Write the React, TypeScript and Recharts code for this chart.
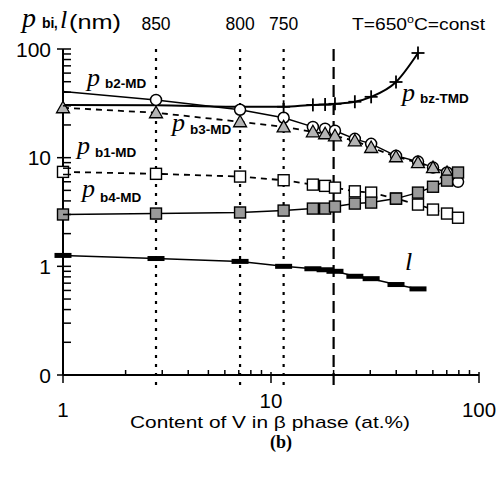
import React from 'react';
import { LineChart, Line, XAxis, YAxis, ReferenceLine } from 'recharts';

const xs = [1, 2.8, 7.1, 11.5, 15.9, 18.2, 20.3, 25.3, 30.3, 39.9, 50.9, 60.1, 70.2, 79.3];
const pb2 = [40.6, 34.0, 27.6, 23.3, 19.2, 18.5, 17.7, 14.9, 13.4, 10.4, 9.2, 8.1, 7.3, 6.0];
const pb3 = [28.8, 25.9, 21.4, 19.2, 17.3, 16.6, 15.9, 14.3, 12.4, 10.2, 9.0, 8.1, 7.3, null];
const pb1 = [7.4, 7.1, 6.7, 6.2, 5.65, 5.5, 5.3, 4.9, 4.77, 4.2, 3.7, 3.33, 3.06, 2.8];
const pb4 = [3.0, 3.06, 3.13, 3.26, 3.4, 3.4, 3.55, 3.78, 3.86, 4.2, 4.77, 5.4, 6.15, 7.3];
const pbz = [30.6, 30.3, 29.4, 29.4, 30.6, 30.8, 31.3, 32.7, 36.3, 49.7, 91.9, null, null, null];
const lnm = [1.26, 1.18, 1.11, 1.0, 0.95, 0.93, 0.9, 0.81, 0.77, 0.68, 0.62, null, null, null];

const tempLines = [
  { x: 2.8, label: '850' },
  { x: 7.1, label: '800' },
  { x: 11.5, label: '750' },
];
const dashedX = 20;

const xTicks = [1, 2, 3, 4, 5, 6, 7, 8, 9, 10, 20, 30, 40, 50, 60, 70, 80, 90, 100];
const yTicks = [0.1, 0.2, 0.3, 0.4, 0.5, 0.6, 0.7, 0.8, 0.9, 1, 2, 3, 4, 5, 6, 7, 8, 9, 10, 20, 30, 40, 50, 60, 70, 80, 90, 100];
const xLabels: Record<number, string> = { 1: '1', 10: '10', 100: '100' };
const yLabels: Record<number, string> = { 0.1: '0', 1: '1', 10: '10', 100: '100' };

const mk = (vals: (number | null)[]) =>
  xs.map((x, i) => ({ x, y: vals[i], i })).filter((d) => d.y !== null);

const SANS = 'Liberation Sans, Arial, sans-serif';
const SERIF = 'Liberation Serif, Times New Roman, serif';

const XTick = (props: any) => {
  const { x, y, payload } = props;
  const v = payload.value;
  const lab = xLabels[v];
  const major = lab !== undefined;
  return (
    <g>
      {major ? (
        <line x1={x} y1={y - 3} x2={x} y2={y + 8} stroke="#000" strokeWidth={1.5} />
      ) : (
        <line x1={x} y1={y - 5} x2={x} y2={y} stroke="#000" strokeWidth={1.5} />
      )}
      {major && (
        <text x={x} y={v === 10 ? y + 33 : y + 42} textAnchor="middle" fontFamily={SANS} fontSize={20.5} fill="#000">
          {lab}
        </text>
      )}
    </g>
  );
};

const YTick = (props: any) => {
  const { x, y, payload } = props;
  const v = payload.value;
  const lab = yLabels[v];
  const major = lab !== undefined;
  return (
    <g>
      {major ? (
        <line x1={x - 6} y1={y} x2={x + 8} y2={y} stroke="#000" strokeWidth={1.5} />
      ) : (
        <line x1={x} y1={y} x2={x + 8} y2={y} stroke="#000" strokeWidth={1.5} />
      )}
      {major && (
        <text x={x - 12} y={y + 7.5} textAnchor="end" fontFamily={SANS} fontSize={21} fill="#000">
          {lab}
        </text>
      )}
    </g>
  );
};

const dotCircle = (from: number) => (p: any) => {
  const { cx, cy, payload, index } = p;
  if (payload.i < from || cx == null) return <g key={index} />;
  return <circle key={index} cx={cx} cy={cy} r={5.5} fill="#fff" stroke="#000" strokeWidth={1.5} />;
};
const dotTri = (p: any) => {
  const { cx, cy, index } = p;
  return (
    <polygon
      key={index}
      points={`${cx},${cy - 6.5} ${cx - 6.5},${cy + 5} ${cx + 6.5},${cy + 5}`}
      fill="#b4b4b4"
      stroke="#000"
      strokeWidth={1.3}
    />
  );
};
const dotSq = (fill: string) => (p: any) => {
  const { cx, cy, index } = p;
  return <rect key={index} x={cx - 5.5} y={cy - 5.5} width={11} height={11} fill={fill} stroke="#000" strokeWidth={1.4} />;
};
const dotCross = (from: number) => (p: any) => {
  const { cx, cy, payload, index } = p;
  if (payload.i < from) return <g key={index} />;
  return (
    <g key={index}>
      <line x1={cx - 6.5} y1={cy} x2={cx + 6.5} y2={cy} stroke="#000" strokeWidth={1.8} />
      <line x1={cx} y1={cy - 6.5} x2={cx} y2={cy + 6.5} stroke="#000" strokeWidth={1.8} />
    </g>
  );
};
const dotBar = (p: any) => {
  const { cx, cy, index } = p;
  return <rect key={index} x={cx - 8.5} y={cy - 2.5} width={17} height={5} fill="#000" />;
};

const vShape = (dash: string) => (p: any) => {
  const top = Math.min(p.y1, p.y2);
  const bot = Math.max(p.y1, p.y2) + 10;
  return <line x1={p.x1} y1={top} x2={p.x2} y2={bot} stroke="#000" strokeWidth={2.2} strokeDasharray={dash} />;
};

const SeriesLabel = ({ x, y, sub, dy = 1.5 }: { x: number; y: number; sub: string; dy?: number }) => (
  <g>
    <text x={x} y={y} fontFamily={SERIF} fontStyle="italic" fontSize={26} fill="#000">p</text>
    <text x={x + 18} y={y + dy} fontFamily={SANS} fontWeight="bold" fontSize={13.5} fill="#000">{sub}</text>
  </g>
);

export default function App() {
  return (
    <div style={{ position: 'absolute', left: 0, top: 0, width: 501, height: 483, background: '#fff' }}>
      <LineChart width={501} height={483} margin={{ top: 49, right: 22, bottom: 107, left: 62 }}>
        <XAxis
          dataKey="x"
          type="number"
          scale="log"
          domain={[1, 100]}
          ticks={xTicks}
          interval={0}
          height={1}
          tickSize={0}
          tickMargin={0}
          tickLine={false}
          axisLine={{ stroke: '#000', strokeWidth: 2 }}
          tick={<XTick />}
        />
        <YAxis
          type="number"
          scale="log"
          domain={[0.1, 100]}
          ticks={yTicks}
          interval={0}
          width={1}
          tickSize={0}
          tickMargin={0}
          tickLine={false}
          axisLine={{ stroke: '#000', strokeWidth: 2 }}
          tick={<YTick />}
        />
        {tempLines.map((t) => (
          <ReferenceLine
            key={t.label}
            x={t.x}
            stroke="#000"
            shape={vShape('3 6')}
            label={{ value: t.label, position: 'top', offset: 19, fontSize: 17.5, fontFamily: SANS, fill: '#000' }}
          />
        ))}
        <ReferenceLine x={dashedX} stroke="#000" shape={vShape('12 6')} />
        <Line data={mk(pb2)} dataKey="y" type="linear" stroke="#000" strokeWidth={1.5} dot={dotCircle(1)} isAnimationActive={false} />
        <Line data={mk(pbz)} dataKey="y" type="monotone" stroke="#000" strokeWidth={2} dot={dotCross(3)} isAnimationActive={false} />
        <Line data={mk(pb3)} dataKey="y" type="linear" stroke="#000" strokeWidth={1.8} strokeDasharray="6 5" dot={dotTri} isAnimationActive={false} />
        <Line data={mk(pb1)} dataKey="y" type="linear" stroke="#000" strokeWidth={1.8} strokeDasharray="6 5" dot={dotSq('#fff')} isAnimationActive={false} />
        <Line data={mk(pb4)} dataKey="y" type="linear" stroke="#000" strokeWidth={1.5} dot={dotSq('#9a9a9a')} isAnimationActive={false} />
        <Line data={mk(lnm)} dataKey="y" type="linear" stroke="#000" strokeWidth={1.5} dot={dotBar} isAnimationActive={false} />
      </LineChart>
      <svg width={501} height={483} style={{ position: 'absolute', left: 0, top: 0, pointerEvents: 'none' }}>
        <text x={22} y={27} fontFamily={SERIF} fontStyle="italic" fontSize={28} fill="#000">p</text>
        <text x={42} y={28} fontFamily={SANS} fontWeight="bold" fontSize={14} fill="#000">bi</text>
        <text x={53} y={28} fontFamily={SANS} fontSize={20} fill="#000">,</text>
        <text x={60} y={28} fontFamily={SERIF} fontStyle="italic" fontSize={26} fill="#000">l</text>
        <text x={69} y={29} fontFamily={SANS} fontSize={20} fill="#000" textLength={52} lengthAdjust="spacingAndGlyphs">(nm)</text>
        <text x={352} y={30} fontFamily={SANS} fontSize={17} fill="#000" textLength={133} lengthAdjust="spacingAndGlyphs">
          T=650<tspan fontSize={11} dy={-7}>o</tspan><tspan dy={7}>C=const</tspan>
        </text>
        <SeriesLabel x={87} y={86} sub="b2-MD" />
        <SeriesLabel x={172} y={131} sub="b3-MD" dy={3} />
        <SeriesLabel x={77} y={154} sub="b1-MD" dy={3} />
        <SeriesLabel x={82} y={197} sub="b4-MD" dy={5} />
        <SeriesLabel x={402} y={101} sub="bz-TMD" dy={2} />
        <text x={405} y={270} fontFamily={SERIF} fontStyle="italic" fontSize={26} fill="#000">l</text>
        <text x={130} y={428} fontFamily={SANS} fontSize={17} fill="#000" textLength={280} lengthAdjust="spacingAndGlyphs">
          Content of V in β phase (at.%)
        </text>
        <text x={281} y={448} textAnchor="middle" fontFamily={SERIF} fontWeight="bold" fontSize={18} fill="#000">(b)</text>
      </svg>
    </div>
  );
}
